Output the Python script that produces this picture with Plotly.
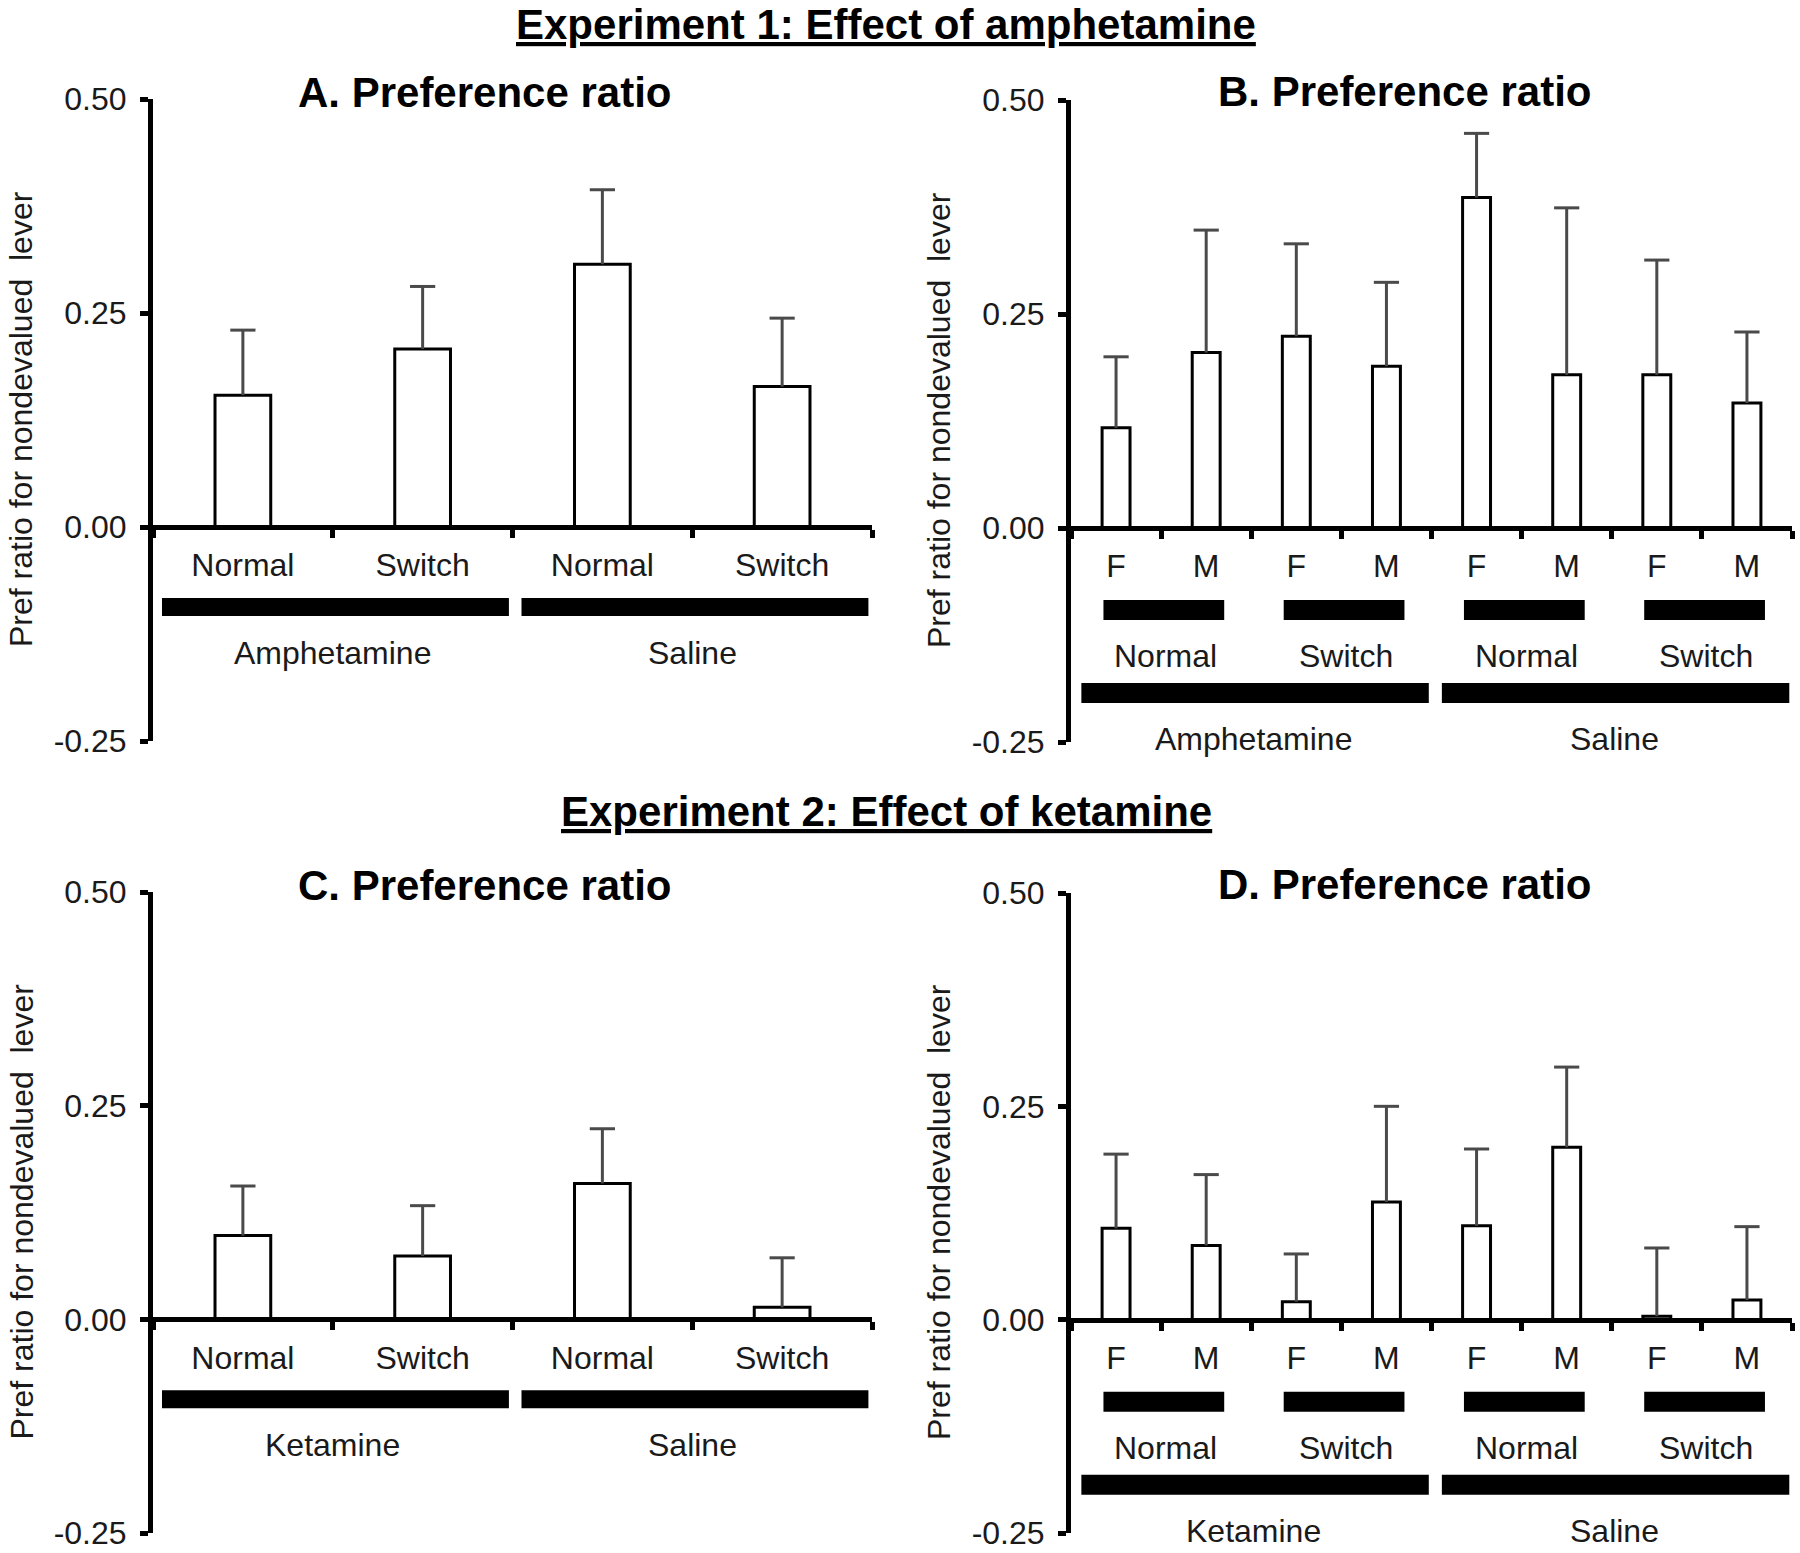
import plotly.graph_objects as go

W, H = 1800, 1553
FONT = "Liberation Sans, Arial, sans-serif"
TXT = "#1a1a1a"

# ---------------- data ----------------
y_tickvals = [-0.25, 0.0, 0.25, 0.5]
y_ticktext = ["-0.25", "0.00", "0.25", "0.50"]
y_title = "Pref ratio for nondevalued  lever"

exp1_title = "Experiment 1: Effect of amphetamine"
exp2_title = "Experiment 2: Effect of ketamine"

a_title = "A. Preference ratio"
a_cats = ["Normal", "Switch", "Normal", "Switch"]
a_groups = ["Amphetamine", "Saline"]
a_vals = [0.154, 0.208, 0.307, 0.164]
a_err_top = [0.230, 0.281, 0.394, 0.244]

b_title = "B. Preference ratio"
b_cats = ["F", "M", "F", "M", "F", "M", "F", "M"]
b_sub = ["Normal", "Switch", "Normal", "Switch"]
b_groups = ["Amphetamine", "Saline"]
b_vals = [0.117, 0.205, 0.224, 0.189, 0.386, 0.179, 0.179, 0.146]
b_err_top = [0.200, 0.348, 0.332, 0.287, 0.461, 0.374, 0.313, 0.229]

c_title = "C. Preference ratio"
c_cats = ["Normal", "Switch", "Normal", "Switch"]
c_groups = ["Ketamine", "Saline"]
c_vals = [0.098, 0.074, 0.159, 0.014]
c_err_top = [0.156, 0.133, 0.223, 0.072]

d_title = "D. Preference ratio"
d_cats = ["F", "M", "F", "M", "F", "M", "F", "M"]
d_sub = ["Normal", "Switch", "Normal", "Switch"]
d_groups = ["Ketamine", "Saline"]
d_vals = [0.107, 0.087, 0.021, 0.138, 0.110, 0.202, 0.004, 0.023]
d_err_top = [0.194, 0.170, 0.077, 0.250, 0.200, 0.296, 0.084, 0.109]

# ---------------- layout geometry (pixels) ----------------
panels = [
    dict(n=1, title=a_title, cats=a_cats, sub=None, groups=a_groups, vals=a_vals, err=a_err_top,
         x0=153, x1=872, top=99, bot=741, tx=485, ty=92, ytx=21),
    dict(n=2, title=b_title, cats=b_cats, sub=b_sub, groups=b_groups, vals=b_vals, err=b_err_top,
         x0=1071, x1=1792, top=100, bot=742, tx=1405, ty=91, ytx=939),
    dict(n=3, title=c_title, cats=c_cats, sub=None, groups=c_groups, vals=c_vals, err=c_err_top,
         x0=153, x1=872, top=892, bot=1533, tx=485, ty=885, ytx=21),
    dict(n=4, title=d_title, cats=d_cats, sub=d_sub, groups=d_groups, vals=d_vals, err=d_err_top,
         x0=1071, x1=1792, top=893, bot=1533, tx=1405, ty=884, ytx=939),
]

fig = go.Figure()
shapes = []
annotations = []
layout_axes = {}


def py2paper(py):
    return 1 - py / H


for p in panels:
    n = p["n"]
    sx = "" if n == 1 else str(n)
    xname, yname = "x" + sx, "y" + sx
    ncat = len(p["cats"])
    xs = list(range(ncat))
    unit_per_px = 0.75 / (p["bot"] - p["top"])
    zero_px = p["top"] + 0.5 / unit_per_px

    def off(px):
        return -px * unit_per_px

    err_up = [t - v for t, v in zip(p["err"], p["vals"])]
    fig.add_trace(go.Bar(
        x=xs, y=p["vals"], width=0.31, xaxis=xname, yaxis=yname, showlegend=False,
        marker=dict(color="white", line=dict(color="black", width=3)),
        error_y=dict(type="data", array=err_up, arrayminus=[0] * ncat, symmetric=False,
                     color="#4a4a4a", thickness=3, width=0),
        hoverinfo="skip",
    ))
    fig.add_trace(go.Scatter(
        x=xs, y=p["err"], mode="markers", xaxis=xname, yaxis=yname, showlegend=False,
        marker=dict(symbol="line-ew", size=18, line=dict(color="#4a4a4a", width=3)),
        hoverinfo="skip",
    ))

    layout_axes["xaxis" + sx] = dict(
        domain=[p["x0"] / W, p["x1"] / W], range=[-0.5, ncat - 0.5],
        anchor="free", position=py2paper(zero_px), automargin=False,
        showline=True, linecolor="black", linewidth=5, showgrid=False, zeroline=False,
        tickmode="array", tickvals=xs, ticktext=p["cats"], ticks="",
        tickfont=dict(family=FONT, size=32, color=TXT), ticklabelstandoff=8,
        minor=dict(tickmode="array", tickvals=[i - 0.5 for i in range(ncat + 1)],
                   ticks="outside", ticklen=8, tickwidth=5, tickcolor="black", showgrid=False),
        fixedrange=True,
    )
    layout_axes["yaxis" + sx] = dict(
        domain=[py2paper(p["bot"]), py2paper(p["top"])], range=[-0.25, 0.5],
        anchor=xname, showline=True, linecolor="black", linewidth=5, automargin=False,
        showgrid=False, zeroline=False,
        tickmode="array", tickvals=y_tickvals, ticktext=y_ticktext,
        ticks="outside", ticklen=8, tickwidth=5, tickcolor="black",
        tickfont=dict(family=FONT, size=32, color=TXT), ticklabelstandoff=7,
        ticklabeloverflow="allow",
        fixedrange=True,
    )

    if p["sub"] is None:
        for gi, g in enumerate(p["groups"]):
            i = gi * 2
            shapes.append(dict(type="rect", xref=xname, yref=yname,
                               x0=i - 0.45, x1=i + 1.48, y0=off(71), y1=off(89),
                               fillcolor="black", line=dict(width=0)))
            annotations.append(dict(xref=xname, yref=yname, x=i + 0.5, y=off(126), text=g,
                                    showarrow=False, font=dict(family=FONT, size=32, color=TXT),
                                    yanchor="middle"))
    else:
        for si, s in enumerate(p["sub"]):
            i = si * 2
            shapes.append(dict(type="rect", xref=xname, yref=yname,
                               x0=i - 0.14, x1=i + 1.2, y0=off(72), y1=off(92),
                               fillcolor="black", line=dict(width=0)))
            annotations.append(dict(xref=xname, yref=yname, x=i + 0.55, y=off(128), text=s,
                                    showarrow=False, font=dict(family=FONT, size=32, color=TXT),
                                    yanchor="middle"))
        for gi, g in enumerate(p["groups"]):
            i = gi * 4
            shapes.append(dict(type="rect", xref=xname, yref=yname,
                               x0=i - 0.385, x1=i + 3.47, y0=off(155), y1=off(175),
                               fillcolor="black", line=dict(width=0)))
            annotations.append(dict(xref=xname, yref=yname, x=i + 1.53, y=off(211), text=g,
                                    showarrow=False, font=dict(family=FONT, size=32, color=TXT),
                                    yanchor="middle"))

    annotations.append(dict(xref="paper", yref="paper", x=p["tx"] / W, y=py2paper(p["ty"]),
                            text="<b>" + p["title"] + "</b>", showarrow=False,
                            xanchor="center", yanchor="middle",
                            font=dict(family=FONT, size=42, color="black")))
    annotations.append(dict(xref="paper", yref="paper", x=p["ytx"] / W,
                            y=py2paper((p["top"] + p["bot"]) / 2 - 1), text=y_title,
                            textangle=-90, showarrow=False, xanchor="center", yanchor="middle",
                            font=dict(family=FONT, size=32, color=TXT)))

for t, ty in [(exp1_title, 24), (exp2_title, 811)]:
    annotations.append(dict(xref="paper", yref="paper", x=886 / W, y=py2paper(ty),
                            text="<b>" + t + "</b>", showarrow=False,
                            xanchor="center", yanchor="middle",
                            font=dict(family=FONT, size=42, color="black", lineposition="under")))

fig.update_layout(
    template="none",
    width=W, height=H, margin=dict(l=0, r=0, t=0, b=0, pad=0), autosize=False,
    paper_bgcolor="white", plot_bgcolor="white",
    shapes=shapes, annotations=annotations, showlegend=False,
    **layout_axes,
)

fig.write_html("out.html")
